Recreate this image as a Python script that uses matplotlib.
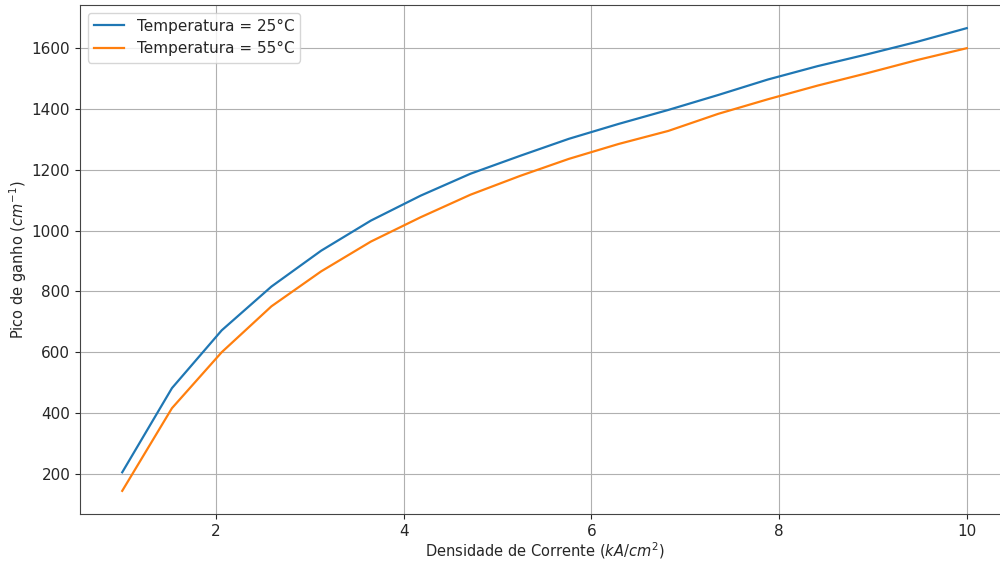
import numpy as np
import matplotlib
matplotlib.use("Agg")
import matplotlib.pyplot as plt

densidade = [1.0, 1.53, 2.06, 2.59, 3.12, 3.65, 4.18, 4.71, 5.24, 5.76,
             6.29, 6.82, 7.35, 7.88, 8.41, 8.94, 9.47, 10.0]
ganho_25 = [205, 482, 672, 816, 934, 1033, 1115, 1187, 1246, 1302,
            1351, 1397, 1446, 1497, 1541, 1580, 1621, 1666]
ganho_55 = [144, 416, 600, 751, 866, 964, 1044, 1118, 1180, 1236,
            1285, 1328, 1384, 1432, 1477, 1518, 1561, 1600]
labels = ["Temperatura = 25°C", "Temperatura = 55°C"]

plt.rcParams['font.family'] = ['DejaVu Sans']
plt.rcParams['text.color'] = '#262626'
plt.rcParams['axes.labelcolor'] = '#262626'
plt.rcParams['xtick.color'] = '#262626'
plt.rcParams['ytick.color'] = '#262626'
fig = plt.figure(figsize=(10, 5.62), dpi=100)
ax = fig.add_axes([0.080, 48/562, 0.929, 509/562])

ax.plot(densidade, ganho_25, color='#1f77b4', lw=1.6, label=labels[0])
ax.plot(densidade, ganho_55, color='#ff7f0e', lw=1.6, label=labels[1])

ax.grid(True, color='#b0b0b0', lw=0.8)
ax.set_xlabel(r'Densidade de Corrente ($kA/cm^2$)', fontsize=10.5, labelpad=1)
ax.set_ylabel(r'Pico de ganho ($cm^{-1}$)', fontsize=10.5, labelpad=2)
ax.tick_params(labelsize=11)
ax.set_xticks([2, 4, 6, 8, 10])
ax.set_yticks([200, 400, 600, 800, 1000, 1200, 1400, 1600])
for s in ax.spines.values():
    s.set_color('#444444')
ax.legend(loc='upper left', fontsize=11)

fig.savefig('out.png', dpi=100)
